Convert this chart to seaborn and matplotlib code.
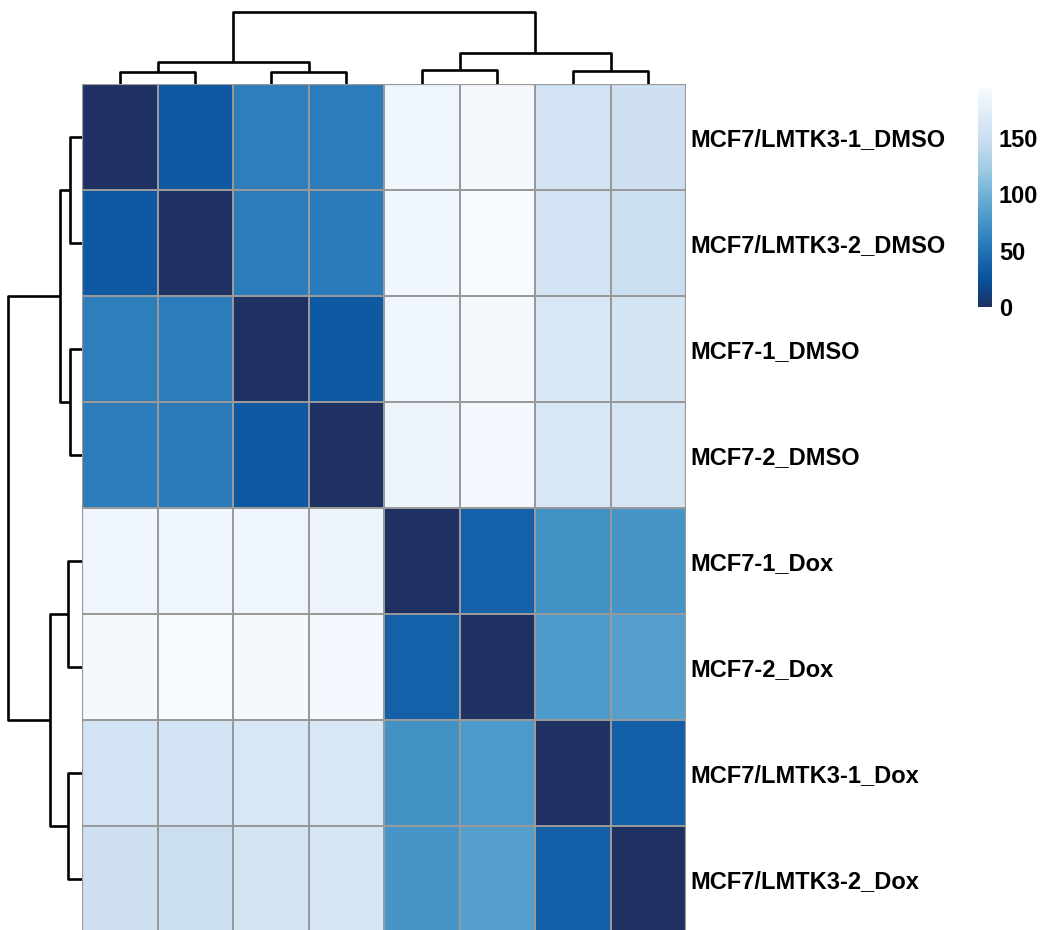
import numpy as np
import pandas as pd
import matplotlib
matplotlib.use("Agg")
import matplotlib.pyplot as plt
from matplotlib.colors import LinearSegmentedColormap
import seaborn as sns

# sample names (same order for rows and columns)
samples = ['MCF7/LMTK3-1_DMSO', 'MCF7/LMTK3-2_DMSO', 'MCF7-1_DMSO', 'MCF7-2_DMSO',
           'MCF7-1_Dox', 'MCF7-2_Dox', 'MCF7/LMTK3-1_Dox', 'MCF7/LMTK3-2_Dox']

# sample-to-sample distances
row_lmtk3_1_dmso = [0, 31, 58, 57, 185, 191, 157, 153]
row_lmtk3_2_dmso = [31, 0, 57, 56, 187, 194, 157, 152]
row_mcf7_1_dmso = [58, 57, 0, 31, 185, 191, 163, 159]
row_mcf7_2_dmso = [57, 56, 31, 0, 184, 190, 163, 160]
row_mcf7_1_dox = [185, 187, 185, 184, 0, 37, 73, 76]
row_mcf7_2_dox = [191, 194, 191, 190, 37, 0, 79, 84]
row_lmtk3_1_dox = [157, 157, 163, 163, 73, 79, 0, 36]
row_lmtk3_2_dox = [153, 152, 159, 160, 76, 84, 36, 0]

# clustering tree (leaf indices), same for rows and columns
tree = (((0, 1), (2, 3)), ((4, 5), (6, 7)))

cbar_ticks = [0, 50, 100, 150]

dist = pd.DataFrame([row_lmtk3_1_dmso, row_lmtk3_2_dmso, row_mcf7_1_dmso, row_mcf7_2_dmso,
                     row_mcf7_1_dox, row_mcf7_2_dox, row_lmtk3_1_dox, row_lmtk3_2_dox],
                    index=samples, columns=samples)

blues = ['#F7FBFF', '#DEEBF7', '#C6DBEF', '#9ECAE1', '#6BAED6',
         '#4292C6', '#2171B5', '#08519C', '#1F3163']
cmap = LinearSegmentedColormap.from_list('blues_rev', blues[::-1], N=255)

plt.rcParams['font.family'] = ['Liberation Sans', 'DejaVu Sans']
plt.rcParams['font.weight'] = 'bold'

W, H = 1047, 930
fig = plt.figure(figsize=(W / 100, H / 100), dpi=100)


def box(x0, y0, x1, y1):
    # pixel box (top-left origin) -> figure fraction rect
    return [x0 / W, 1 - y1 / H, (x1 - x0) / W, (y1 - y0) / H]


ax = fig.add_axes(box(82, 84, 686, 932))
cax = fig.add_axes(box(978, 88, 992, 307))
ax_top = fig.add_axes(box(82, 8, 686, 84))
ax_left = fig.add_axes(box(4, 84, 82, 932))

vals = dist.values
sns.heatmap(dist, ax=ax, cmap=cmap, vmin=0, vmax=vals.max(),
            linewidths=1.2, linecolor='#999999', cbar_ax=cax,
            cbar_kws={'ticks': cbar_ticks}, xticklabels=False)
for x in [0, 8]:
    ax.axvline(x, color='#999999', lw=1.6)
ax.axhline(0, color='#999999', lw=1.6)
ax.yaxis.tick_right()
ax.set_yticklabels(samples, rotation=0, fontsize=17, fontweight='bold', ha='left')
ax.tick_params(axis='y', length=0, pad=3)
ax.set_xlabel('')
ax.set_ylabel('')

cax.tick_params(length=0, labelsize=17, pad=5)
for t in cax.get_yticklabels():
    t.set_fontweight('bold')
ax.collections[0].colorbar.outline.set_visible(False)


def leaves(node):
    if isinstance(node, int):
        return [node]
    return leaves(node[0]) + leaves(node[1])


def draw(node, axd, vertical):
    # returns (position, height); complete linkage from the distance matrix
    if isinstance(node, int):
        return node + 0.5, 0.0
    p1, h1 = draw(node[0], axd, vertical)
    p2, h2 = draw(node[1], axd, vertical)
    h = max(vals[i, j] for i in leaves(node[0]) for j in leaves(node[1]))
    xs = [p1, p1, p2, p2]
    ys = [h1, h, h, h2]
    if vertical:
        axd.plot(xs, ys, color='black', lw=1.9, solid_capstyle='butt')
    else:
        axd.plot(ys, xs, color='black', lw=1.9, solid_capstyle='butt')
    return (p1 + p2) / 2, h


root = vals.max()
draw(tree, ax_top, True)
ax_top.set_xlim(0, 8)
ax_top.set_ylim(0, root * 1.05)
draw(tree, ax_left, False)
ax_left.set_ylim(8, 0)
ax_left.set_xlim(root * 1.05, 0)
for a in (ax_top, ax_left):
    a.axis('off')

fig.savefig('out.png', dpi=100)
